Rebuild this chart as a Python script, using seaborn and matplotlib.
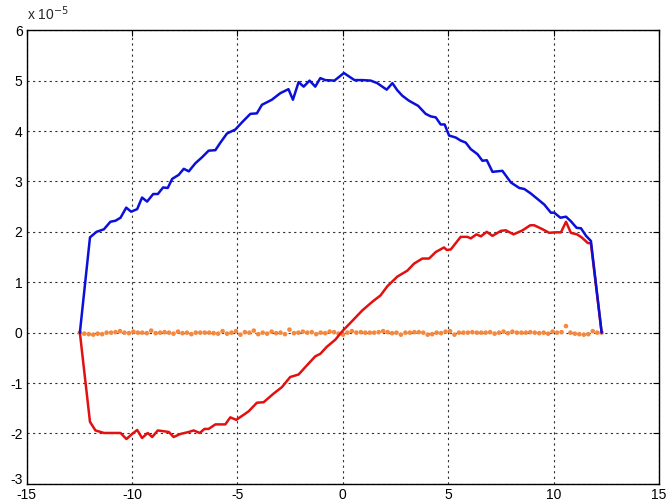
import numpy as np
import pandas as pd
import matplotlib
matplotlib.use("Agg")
import matplotlib.pyplot as plt
import matplotlib.transforms as mtransforms
import seaborn as sns
from matplotlib.ticker import FuncFormatter

SCALE = 1e-5

blue_x = [-12.48, -12.0, -11.69, -11.34, -11.03, -10.79, -10.55, -10.28, -10.05, -9.76,
          -9.53, -9.29, -9.0, -8.78, -8.53, -8.31, -8.10, -7.79, -7.55, -7.31,
          -7.0, -6.68, -6.37, -6.05, -5.81, -5.5, -5.1, -4.79, -4.39, -4.08,
          -3.84, -3.37, -2.97, -2.58, -2.37, -2.1, -1.86, -1.58, -1.31, -1.07,
          -0.84, -0.40, 0.05, 0.55, 0.92, 1.32, 1.63, 2.08, 2.35, 2.58,
          2.82, 3.14, 3.57, 3.93, 4.17, 4.41, 4.64, 4.83, 5.04, 5.36,
          5.59, 5.83, 6.07, 6.39, 6.62, 6.83, 7.10, 7.57, 7.97, 8.37,
          8.61, 8.92, 9.24, 9.56, 9.87, 10.03, 10.32, 10.59, 10.82, 11.09,
          11.3, 11.54, 11.77, 12.28]
blue_y = [0.0, 1.89, 2.0, 2.05, 2.2, 2.22, 2.28, 2.48, 2.40, 2.45,
          2.68, 2.60, 2.75, 2.75, 2.88, 2.87, 3.05, 3.13, 3.25, 3.20,
          3.36, 3.48, 3.61, 3.62, 3.77, 3.95, 4.03, 4.17, 4.34, 4.35,
          4.52, 4.62, 4.75, 4.83, 4.62, 4.97, 4.88, 5.0, 4.88, 5.05,
          5.01, 5.0, 5.15, 5.01, 5.01, 5.0, 4.95, 4.82, 4.95, 4.81,
          4.70, 4.60, 4.50, 4.34, 4.29, 4.27, 4.13, 4.13, 3.91, 3.87,
          3.81, 3.77, 3.64, 3.54, 3.41, 3.42, 3.19, 3.21, 2.98, 2.87,
          2.85, 2.76, 2.65, 2.54, 2.38, 2.38, 2.28, 2.30, 2.21, 2.08,
          2.07, 1.92, 1.82, 0.0]

red_x = [-12.48, -12.0, -11.74, -11.34, -10.55, -10.27, -10.0, -9.76, -9.53, -9.26,
         -9.05, -8.78, -8.26, -8.03, -7.71, -7.31, -7.08, -6.79, -6.57, -6.37,
         -6.05, -5.58, -5.34, -5.06, -4.71, -4.47, -4.08, -3.76, -3.29, -2.89,
         -2.50, -2.1, -1.71, -1.31, -1.07, -0.76, -0.36, 0.0, 0.44, 0.92,
         1.39, 1.79, 2.11, 2.58, 3.06, 3.38, 3.77, 4.09, 4.41, 4.80,
         4.93, 5.12, 5.59, 5.91, 6.07, 6.34, 6.55, 6.83, 7.1, 7.5,
         7.73, 8.1, 8.53, 8.89, 9.08, 9.48, 9.79, 10.06, 10.35, 10.59,
         10.82, 11.11, 11.33, 11.62, 11.77, 12.28]
red_y = [0.0, -1.77, -1.94, -1.99, -1.99, -2.11, -2.01, -1.93, -2.09, -1.99,
         -2.07, -1.94, -1.97, -2.07, -2.01, -1.97, -1.94, -1.99, -1.91, -1.91,
         -1.82, -1.82, -1.68, -1.73, -1.63, -1.56, -1.39, -1.38, -1.21, -1.08,
         -0.88, -0.83, -0.65, -0.47, -0.42, -0.28, -0.14, 0.04, 0.23, 0.44,
         0.61, 0.74, 0.92, 1.11, 1.23, 1.37, 1.47, 1.47, 1.60, 1.69,
         1.64, 1.65, 1.90, 1.90, 1.87, 1.95, 1.91, 2.0, 1.92, 2.02,
         2.03, 1.95, 2.03, 2.13, 2.13, 2.05, 1.98, 1.99, 1.99, 2.20,
         1.98, 1.95, 1.89, 1.78, 1.77, 0.0]

dot_x = list(np.linspace(-12.48, 12.28, 118))
dot_y = [0.0, -0.02, -0.03, -0.04, -0.02, -0.03, 0.0, 0.0, 0.01, 0.03,
         0.0, -0.01, 0.02, 0.0, 0.0, -0.01, 0.04, -0.01, 0.0, 0.01,
         0.0, -0.02, 0.02, -0.01, 0.0, -0.03, 0.0, 0.0, 0.0, 0.0,
         -0.01, -0.02, 0.03, -0.02, 0.0, 0.03, -0.04, 0.01, 0.0, 0.04,
         -0.03, 0.0, -0.02, 0.02, -0.01, 0.0, -0.03, 0.06, -0.01, 0.0,
         0.02, 0.0, 0.01, -0.03, 0.0, -0.01, 0.02, 0.01, -0.02, -0.04,
         0.0, 0.03, 0.0, 0.01, 0.0, 0.0, 0.0, 0.01, 0.03, 0.01,
         -0.01, 0.0, -0.04, 0.0, 0.0, 0.01, 0.01, 0.0, -0.04, -0.03,
         0.0, -0.01, 0.02, 0.03, -0.04, 0.0, 0.0, 0.0, 0.01, 0.0,
         0.0, 0.0, 0.01, -0.02, 0.0, 0.02, -0.01, 0.02, 0.0, 0.0,
         0.0, 0.01, 0.0, -0.01, 0.0, -0.02, 0.02, 0.0, 0.01, 0.13,
         0.0, -0.02, -0.03, -0.04, -0.03, 0.03, 0.0, 0.0]

x_ticks = [-15, -10, -5, 0, 5, 10, 15]
y_ticks = [-3, -2, -1, 0, 1, 2, 3, 4, 5, 6]

sns.set_style("white")
plt.rcParams['font.family'] = ['Liberation Sans', 'DejaVu Sans']

fig = plt.figure(figsize=(6.69, 5.03), dpi=100)
ax = fig.add_axes([0.040, 0.038, 0.945, 0.902])

blue_df = pd.DataFrame({"x": blue_x, "y": np.array(blue_y) * SCALE})
red_df = pd.DataFrame({"x": red_x, "y": np.array(red_y) * SCALE})
dot_df = pd.DataFrame({"x": dot_x, "y": np.array(dot_y) * SCALE})

sns.scatterplot(data=dot_df, x="x", y="y", ax=ax, color="#F5883F", s=11,
                edgecolor="none", zorder=2)
sns.lineplot(data=red_df, x="x", y="y", ax=ax, color="#E21010", linewidth=1.8,
             sort=False, estimator=None, zorder=3)
sns.lineplot(data=blue_df, x="x", y="y", ax=ax, color="#0A10D8", linewidth=1.8,
             sort=False, estimator=None, zorder=4)

ax.set_xlim(-15, 15)
ax.set_ylim(-3 * SCALE, 6 * SCALE)
ax.set_xticks(x_ticks)
ax.set_yticks([t * SCALE for t in y_ticks])
ax.yaxis.set_major_formatter(FuncFormatter(lambda v, p: f"{v / SCALE:.0f}"))
ax.xaxis.set_major_formatter(FuncFormatter(lambda v, p: f"{v:.0f}"))
ax.set_xlabel("")
ax.set_ylabel("")

ax.grid(True, color="#333333", linestyle=(0, (2, 3)), linewidth=0.8)
ax.set_axisbelow(True)
for s in ax.spines.values():
    s.set_color("black")
    s.set_linewidth(1.0)
ax.tick_params(direction="in", length=4, width=0.8, top=True, right=True,
               labelsize=10, pad=3, colors="black")

# nudge the bottom y label ("-3") up slightly, as in the reference
fig.canvas.draw()
ylabels = ax.get_yticklabels()
shift = mtransforms.ScaledTranslation(0, 4 / 72, fig.dpi_scale_trans)
ylabels[0].set_transform(ylabels[0].get_transform() + shift)

fig.text(0.040, 0.955, r"x 10$^{-5}$", fontsize=10, ha="left", va="bottom")

fig.savefig("out.png", dpi=100)
